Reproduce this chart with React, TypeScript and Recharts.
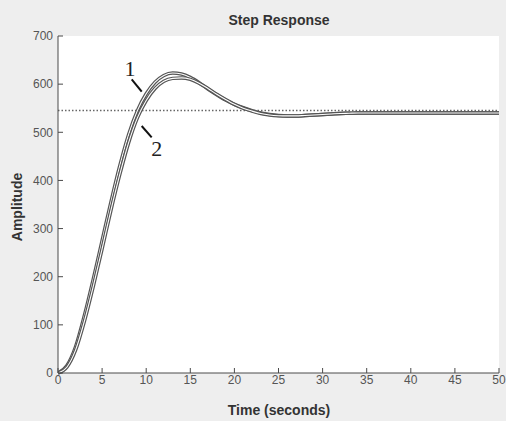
import React from 'react';
import {
  LineChart, Line, XAxis, YAxis, ReferenceLine, ReferenceDot, CartesianGrid, Customized,
} from 'recharts';

const times = [
  0, 1, 2, 3, 4, 5, 6, 7, 8, 9, 10, 11, 12, 13, 14, 15, 16, 17, 18, 19, 20,
  21, 22, 23, 24, 25, 26, 27, 28, 29, 30, 31, 32, 33, 34, 35, 36, 37, 38, 39, 40,
  41, 42, 43, 44, 45, 46, 47, 48, 49, 50,
];
const response1 = [
  0, 15, 55, 120, 195, 275, 355, 430, 495, 545, 580, 604, 618, 623, 621, 614, 603, 590, 578, 567, 558,
  551, 545, 540, 537, 535, 534, 534, 535, 536, 537, 538, 539, 539.5, 540, 540, 540, 540, 540, 540, 540,
  540, 540, 540, 540, 540, 540, 540, 540, 540, 540,
];
const response2 = [
  0, 12, 48, 108, 180, 258, 338, 412, 478, 530, 566, 591, 606, 612, 613, 610, 602, 591, 579, 568, 558,
  550, 544, 539, 536, 534.5, 534, 534, 535, 536, 537, 538, 539, 539.5, 540, 540, 540, 540, 540, 540, 540,
  540, 540, 540, 540, 540, 540, 540, 540, 540, 540,
];
const steadyState = 545;
const xTicks = [0, 5, 10, 15, 20, 25, 30, 35, 40, 45, 50];
const yTicks = [0, 100, 200, 300, 400, 500, 600, 700];

const data = times.map((t, i) => ({ t, r1: response1[i], r2: response2[i] }));

const ink = '#4a4a4a';
const tickStyle = { fontSize: 12, fill: '#555', fontFamily: 'Liberation Sans, Arial, sans-serif' };

const Titles = () => (
  <g fontFamily="Liberation Sans, Arial, sans-serif" fontWeight="bold" fill="#333">
    <text x={279} y={25} textAnchor="middle" fontSize={14}>Step Response</text>
    <text x={279} y={415} textAnchor="middle" fontSize={14}>Time (seconds)</text>
    <text x={22} y={207} textAnchor="middle" fontSize={14} transform="rotate(-90 22 207)">Amplitude</text>
  </g>
);

const numLabel = (txt: string) => (p: any) => (
  <text x={p.cx} y={p.cy + 7} textAnchor="middle" fontSize={22} fontFamily="Liberation Serif, Times New Roman, serif" fill="#222">
    {txt}
  </text>
);

export default function App() {
  return (
    <div style={{ position: 'absolute', left: 0, top: 0, width: 506, height: 421, background: '#eeeeee' }}>
      <LineChart width={506} height={421} data={data} margin={{ top: 36, right: 7, bottom: 3, left: 8 }}>
        <CartesianGrid horizontal={false} vertical={false} fill="#ffffff" />
        <XAxis
          dataKey="t" type="number" domain={[0, 50]} ticks={xTicks} height={45}
          tickSize={-5} tickMargin={7} tick={tickStyle} stroke={ink} allowDataOverflow
        />
        <XAxis
          xAxisId="top" orientation="top" dataKey="t" type="number" domain={[0, 50]} ticks={xTicks}
          height={0} tickSize={-5} tick={false} stroke={ink}
        />
        <YAxis
          type="number" domain={[0, 700]} ticks={yTicks} width={50}
          tickSize={-5} tickMargin={10} tick={tickStyle} stroke={ink}
        />
        <YAxis
          yAxisId="right" orientation="right" type="number" domain={[0, 700]} ticks={yTicks}
          width={0} tickSize={-5} tick={false} stroke={ink}
        />
        <ReferenceLine y={steadyState} stroke="#666" strokeDasharray="1.5 2" strokeWidth={1.5} />
        <Line dataKey="r1" type="monotone" stroke="#555" strokeWidth={3.5} dot={false} isAnimationActive={false} />
        <Line dataKey="r1" type="monotone" stroke="#ffffff" strokeWidth={1.1} dot={false} isAnimationActive={false} />
        <Line dataKey="r2" type="monotone" stroke="#555" strokeWidth={3.5} dot={false} isAnimationActive={false} />
        <Line dataKey="r2" type="monotone" stroke="#ffffff" strokeWidth={1.1} dot={false} isAnimationActive={false} />
        <ReferenceLine segment={[{ x: 8.36, y: 610 }, { x: 9.49, y: 584.5 }]} stroke="#111" strokeWidth={2} />
        <ReferenceLine segment={[{ x: 9.49, y: 513 }, { x: 10.62, y: 489.5 }]} stroke="#111" strokeWidth={2} />
        <ReferenceDot x={8.16} y={631.5} r={0} shape={numLabel('1')} />
        <ReferenceDot x={11.2} y={465} r={0} shape={numLabel('2')} />
        <Customized component={Titles} />
      </LineChart>
    </div>
  );
}
